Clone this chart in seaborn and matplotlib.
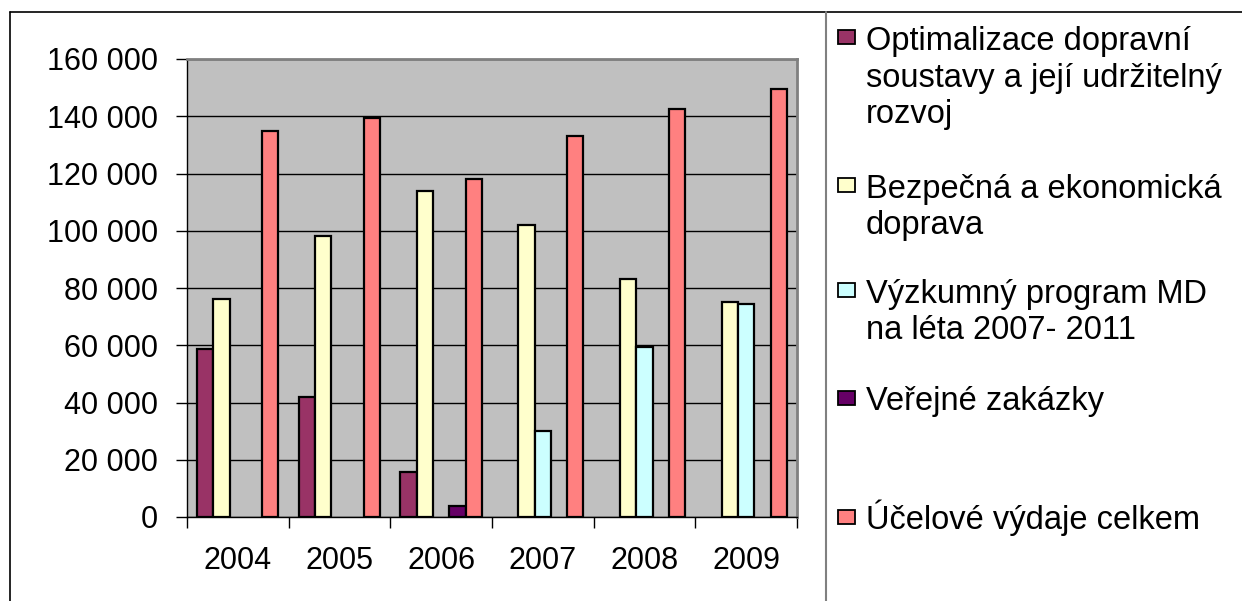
import numpy as np
import pandas as pd
import seaborn as sns
import matplotlib.pyplot as plt
from matplotlib.patches import Rectangle
from matplotlib.lines import Line2D
from matplotlib.ticker import FuncFormatter, FixedLocator

# data (thousand CZK)
years = ['2004', '2005', '2006', '2007', '2008', '2009']
series = [
    'Optimalizace dopravní\nsoustavy a její udržitelný\nrozvoj',
    'Bezpečná a ekonomická\ndoprava',
    'Výzkumný program MD\nna léta 2007- 2011',
    'Veřejné zakázky',
    'Účelové výdaje celkem',
]
optimalizace = [58600, 41800, 15600, np.nan, np.nan, np.nan]
bezpecna = [76000, 98100, 114000, 102000, 83000, 75000]
vyzkumny = [np.nan, np.nan, np.nan, 30000, 59300, 74300]
verejne = [np.nan, np.nan, 3900, np.nan, np.nan, np.nan]
celkem = [134700, 139300, 118000, 133000, 142400, 149600]
colors = ['#993366', '#FFFFCC', '#CCFFFF', '#660066', '#FF8080']

values = [optimalizace, bezpecna, vyzkumny, verejne, celkem]
rows = []
for name, vals in zip(series, values):
    for y, v in zip(years, vals):
        if not np.isnan(v):
            rows.append({'Rok': y, 'Řada': name, 'Hodnota': v})
df = pd.DataFrame(rows)

sns.set_style('white')
plt.rcParams['font.family'] = ['Liberation Sans', 'DejaVu Sans']
plt.rcParams['text.color'] = 'black'

W, H = 1242, 601
fig = plt.figure(figsize=(W / 100, H / 100), dpi=100)
ax = fig.add_axes([187 / W, 1 - 517 / H, (797 - 187) / W, (517 - 59) / H])
ax.set_facecolor('#C0C0C0')

sns.barplot(data=df, x='Rok', y='Hodnota', hue='Řada', order=years,
            hue_order=series, palette=colors, saturation=1, width=0.8,
            edgecolor='black', linewidth=1.6, errorbar=None, legend=False,
            ax=ax)

ax.set_xlim(-0.5, len(years) - 0.5)
ax.set_ylim(0, 160000)
ax.set_yticks(np.arange(0, 160001, 20000))
ax.yaxis.set_major_formatter(FuncFormatter(lambda v, p: f'{int(v):,}'.replace(',', ' ')))
ax.grid(axis='y', color='black', linewidth=1)
ax.set_axisbelow(True)
ax.set_xlabel('')
ax.set_ylabel('')

ax.tick_params(axis='y', length=8, width=1, pad=13, labelsize=22, direction='out',
               left=True, color='black', labelcolor='black')
ax.tick_params(axis='x', which='major', length=0, pad=21, labelsize=22, labelcolor='black')
ax.xaxis.set_minor_locator(FixedLocator(np.arange(-0.5, len(years), 1)))
ax.tick_params(axis='x', which='minor', length=8, width=1, direction='out',
               bottom=True, color='black')

for side in ['left', 'bottom']:
    ax.spines[side].set_color('black')
    ax.spines[side].set_linewidth(1)
for side in ['top', 'right']:
    ax.spines[side].set_color('#808080')
    ax.spines[side].set_linewidth(2)


def fx(x):
    return x / W


def fy(y):
    return 1 - y / H


# frame and divider like the Excel chart area
fig.add_artist(Line2D([fx(10), 1], [fy(12), fy(12)], color='black', linewidth=1.2))
fig.add_artist(Line2D([fx(10), fx(10)], [fy(12), 0], color='black', linewidth=1.2))
fig.add_artist(Line2D([fx(826), fx(826)], [fy(12), 0], color='#808080', linewidth=1.5))

# legend (Excel style, uneven spacing), marker next to the first line
first_line_y = [37, 185, 290, 398, 517]
line_px = 37
for name, col, yc in zip(series, colors, first_line_y):
    n_lines = name.count('\n') + 1
    fig.add_artist(Rectangle((fx(838), fy(yc + 7)), 17 / W, 14 / H, facecolor=col,
                             edgecolor='black', linewidth=1.3, transform=fig.transFigure))
    # va='baseline' aligns the last line, so count down from the first one
    fig.text(fx(866), fy(yc + 12 + (n_lines - 1) * line_px), name, fontsize=23.5,
             va='baseline', ha='left', linespacing=1.22, color='black')

fig.savefig('out.png', dpi=100)
